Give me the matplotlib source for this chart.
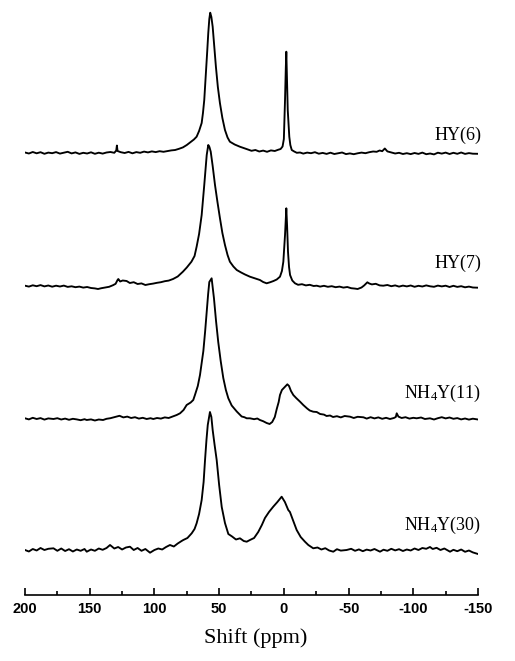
import matplotlib
matplotlib.use("Agg")
import matplotlib.pyplot as plt
from matplotlib.ticker import FixedLocator

plt.rcParams['mathtext.default'] = 'regular'

# ---------------- data ----------------
tick_values = [200, 150, 100, 50, 0, -50, -100, -150]
tick_labels = ["200", "150", "100", "50", "0", "-50", "-100", "-150"]
minor_values = [175, 125, 75, 25, -25, -75, -125]
xlabel = "Shift (ppm)"
sample_labels = ["HY(6)", "HY(7)", "NH$_4$Y(11)", "NH$_4$Y(30)"]

hy6_ppm = [200, 197, 194, 191, 188, 185, 182, 179, 176, 173, 170, 167, 164, 161, 158, 155,
           152, 149, 146, 143, 140, 137, 134, 131, 129.5, 129, 128.5, 126, 123, 120, 117, 114,
           111, 108, 105, 102, 99, 96, 93, 90, 87, 84, 81, 78, 75, 72, 69.5, 67.4, 65.5, 63.5,
           62.5, 61.5, 60.2, 59.2, 58.4, 57.6, 56.9, 56, 55, 53.8, 52.5, 51, 49.4, 47.5, 45.5,
           43.5, 41.7, 38, 34, 31, 28, 25, 22, 19, 16, 13, 10, 7, 4.5, 2.5, 1, 0, -0.9, -1.5,
           -1.9, -2.4, -3, -4.2, -5, -6.1, -8, -10, -12.5, -15, -18, -21, -24, -27, -30, -33,
           -36, -39, -42, -45, -48, -51, -54, -57, -60, -63, -66, -69, -71.7, -74, -76, -78,
           -80, -83, -86, -89, -92, -95, -98, -101, -104, -107, -110, -113, -116, -119, -122,
           -125, -128, -131, -134, -137, -140, -143, -146, -150]
hy6_int = [0.5, -0.5, 1.0, -0.3, 0.8, -0.8, 0.4, -0.2, 0.9, -0.6, 0.3, 1.2, -0.4, 0.6, -0.9, 0.2,
           -0.5, 0.7, -0.8, 0.3, -0.6, 0.5, 1.0, 0.2, 2.5, 7.5, 2.0, 0.8, 0.0, 1.1, -0.3, 0.9,
           0.2, 1.4, 0.6, 1.6, 0.9, 1.8, 1.2, 1.9, 2.6, 3.0, 4.2, 5.6, 8.0, 11.0, 13.5, 16.3, 22, 30,
           40, 53, 80, 102, 120, 134, 140.3, 136, 126.3, 107, 86.3, 66, 50, 35, 23,
           15.5, 11.3, 8.5, 6.3, 5.0, 3.6, 2.2, 3.0, 1.5, 2.4, 1.2, 2.6, 2.0, 3.2, 4.0, 6.5, 14, 53, 85,
           101.3, 75, 43, 16.3, 8, 3.0, 1.5, 0.2, 0.5, -0.6, 0.4, -0.2, 0.8, -0.7, 0.1, -0.9,
           0.3, -1.0, -0.2, 0.5, -1.1, -0.4, -1.2, -0.3, 0.4, -0.2, 0.8, 1.5, 1.2, 2.5, 1.8, 4.5,
           1.6, 0.6, -0.5, 0.2, -1.0, -0.2, -1.1, 0.0, -0.9, 0.4, -1.2, -0.5, -1.4, 0.3, -0.6,
           0.4, -1.0, 0.2, -0.8, 0.5, -0.9, -0.1, -0.7, -0.8]

hy7_ppm = [200, 197, 194, 191, 188, 185, 182, 179, 176, 173, 170, 167, 164, 161, 158, 155, 152,
           149, 146, 143.6, 141, 138, 135, 132, 130, 128.5, 127.9, 126.5, 124.5, 121.5, 119, 116,
           113, 110, 107, 104, 101, 98, 95, 92, 89, 85.6, 82, 78, 75, 71.4, 69, 67.4, 65.5, 63.5,
           61.5, 59.6, 58.4, 57.5, 56.5, 55, 53.2, 51.3, 49.4, 47.5, 45.5, 43.5, 41.7, 39, 36.4,
           33, 30, 26.2, 22, 18.5, 16, 13.3, 10.5, 8, 5.5, 3, 1.5, 0.4, -0.9, -1.9, -2.5, -3.2,
           -4.0, -4.8, -6.5, -8.6, -11, -14, -17, -20, -23, -25.4, -28, -31, -34, -37, -40, -43,
           -46, -49, -52, -55, -57, -60, -62, -64.5, -66, -68, -71, -74, -76.8, -80, -83, -86,
           -89, -92, -95, -98, -101, -104, -107, -110, -113, -116, -119, -122, -125, -128, -131,
           -134, -137, -140, -143, -146, -150]
hy7_int = [0.3, -0.6, 0.7, -0.2, 0.9, -0.4, 0.5, -0.7, 0.3, -0.5, 0.4, -0.9, -0.3, -1.2, -0.6, -1.6, -1.0,
           -2.0, -2.4, -3.0, -2.2, -1.5, -0.8, 0.8, 2.2, 6.0, 7.0, 4.5, 5.5, 5.0, 3.0, 3.8,
           2.0, 2.6, 1.0, 1.8, 2.4, 3.2, 3.8, 4.8, 5.4, 7.0, 9.5, 14.3, 18.5, 24.3, 30, 39.3, 52, 71,
           101, 131, 141, 139, 134.3, 120, 101, 84, 68, 53, 41, 31, 24.3, 19.5, 16,
           13.5, 11.5, 9.3, 7.5, 6.0, 4.0, 2.7, 3.8, 5.0, 6.5, 9.3, 15, 24.3, 51, 77.7, 60, 34.3,
           19, 11, 5.5, 2.7, 1.2, 1.8, 0.6, 1.2, 0.0, 0.3, -0.6, 0.2, -0.8, -0.2, -1.2, -0.6,
           -1.6, -1.0, -2.2, -2.6, -3.0, -1.5, 0.5, 3.7, 2.5, 1.6, 2.2, 0.6, 0.3, 1.0, -0.2, 0.6,
           -0.6, 0.4, -0.4, 0.5, -0.8, 0.2, -0.5, 0.6, -0.3, -0.8, 0.4, -0.4, 0.3, -1.0, 0.2,
           -0.9, -0.2, -1.3, -0.6, -1.5, -1.7]

nh11_ppm = [200, 197, 194, 191, 188, 185, 182, 178, 175, 172, 169, 166, 163, 160, 157, 154, 152.3,
            149, 146, 143, 139.7, 137, 134, 131, 129.2, 127, 124, 121, 118, 115, 112, 109, 106,
            103, 100.9, 98, 95, 92, 89, 86, 82.8, 80.2, 77.5, 75.1, 72, 70, 68.7, 66.5, 64.8,
            62.2, 60.8, 59.6, 58.5, 57.6, 55.8, 54, 52.4, 50.7, 48.8, 46.8, 44.8, 42.9, 40.3, 38,
            36.4, 34.5, 32.6, 30.5, 28.7, 26.2, 23, 20.5, 18.5, 16, 13.3, 11, 9, 7, 5.5, 4, 3,
            1.5, 0, -1.5, -2.7, -4, -5.5, -7.3, -9.5, -12.5, -15, -18, -20, -22.7, -25.4, -28,
            -31, -33, -35.7, -38, -41, -44, -47, -51.2, -54, -57, -61.5, -64, -67, -70, -73, -76,
            -79, -82, -85, -86.5, -87.2, -88.5, -91, -94, -97, -100, -102.6, -106, -109, -112.9,
            -116, -119, -122, -125, -128, -131, -134, -137, -140, -143, -146, -150]
nh11_int = [0.7, -0.4, 1.2, 0.0, 0.9, -0.6, 0.6, 0.0, 0.8, -0.5, 0.4, -0.8, 0.2, -0.4, -1.2, -0.2, -1.0,
            -0.4, -1.5, -0.5, -1.0, 0.2, 0.8, 1.8, 2.3, 3.2, 1.6, 2.4, 1.0, 1.8, 0.4, 1.2, 0.0,
            0.8, 0.0, 1.0, 0.4, 1.6, 1.0, 2.5, 4.0, 5.7, 9.0, 14, 16.5, 19, 24, 33, 44,
            68, 88, 107, 125, 137, 140.7, 120.7, 98, 77, 58, 41, 29, 20.7, 13.5, 10,
            7.5, 5.0, 2.5, 1.8, 0.7, 0.7, -0.2, 0.5, -1.0, -2.2, -4.0, -5.0, -3.0, 2.0, 10.0, 17, 24,
            29, 31, 33, 34.7, 33, 28, 24, 21, 17.3, 14, 10.5, 8.5, 7.3, 7.0, 5.0,
            4.4, 3.0, 3.5, 2.0, 2.8, 1.6, 3.0, 2.3, 1.0, 2.2, 1.7, 0.4, 1.8, 0.6, 1.6, 0.2,
            1.2, 0.0, 1.0, 2.0, 5.7, 2.4, 1.0, 1.8, 0.4, 1.2, 0.7, 1.5, 0.0, 0.7,
            -0.5, 0.8, 1.8, 0.6, 1.5, 0.2, 0.9, -0.4, 0.5, -0.6, 0.3, -0.5]

nh30_ppm = [200, 197, 194, 191, 188, 185, 182, 178, 175, 172, 169, 166, 163, 160, 157, 154, 152.3,
            149, 146, 143, 140, 137, 134.3, 131, 128, 125, 122, 118.9, 116, 113, 110, 107, 103.4,
            100, 97, 94, 91, 88, 85, 82, 79, 77.7, 74.5, 71.2, 69, 67.4, 65.5, 63.5, 62, 60.9,
            59.8, 58.8, 57.1, 56, 55, 53.5, 51.9, 50, 48, 45.5, 42.9, 40, 37, 33.9, 31, 28.7,
            26.2, 23, 19.8, 17, 14.6, 11.5, 8.2, 5, 1.7, -0.8, -3.4, -4.7, -7, -9.9, -13, -16.3,
            -18.9, -22.7, -26, -29, -32, -35, -38.2, -41, -44, -48.5, -52, -55, -58, -61, -64,
            -67, -70, -74.3, -77, -80, -83, -86, -89, -92, -95, -98, -101, -104, -107, -110,
            -112.9, -115, -118, -121, -124, -128.4, -131, -134, -137, -140, -143, -146, -150]
nh30_int = [0.0, -1.5, 1.0, -0.5, 2.0, 0.0, 1.2, 1.7, -0.8, 1.5, -1.0, 0.8, -1.5, 0.5, -0.8, 1.0, -1.7,
            0.5, -0.8, 1.5, 0.2, 2.0, 5.0, 1.5, 3.0, 0.5, 2.5, 3.3, 0.0, 2.0, -0.8, 1.0, -2.7,
            0.0, 1.5, 0.5, 3.0, 5.0, 3.5, 6.5, 9.0, 10, 12, 16.7, 21, 26.7, 36, 50, 68, 90,
            110, 125, 138, 133, 120, 105, 90, 65, 43, 27, 16, 13.5, 10.5, 11.7, 9.0, 8.3,
            10, 12, 18, 25, 32, 38, 43.3, 48, 53.3, 48, 40, 38, 30, 20, 13, 8.3,
            5.0, 1.7, 2.5, 0.5, 1.8, -0.5, -1.7, 0.8, -0.6, 0.0, 1.2, -0.8, 0.6, -1.2, 0.4,
            -0.5, 1.0, -1.7, 0.3, -0.8, 1.2, -0.4, 0.8, -1.0, 0.5, -0.5, 1.5, 0.0, 2.0, 1.2,
            3.0, 1.0, 2.2, 0.0, 1.5, -1.7, 0.2, -1.2, 0.5, -1.8, -0.5, -2.4, -4.0]

traces = [(hy6_ppm, hy6_int), (hy7_ppm, hy7_int), (nh11_ppm, nh11_int), (nh30_ppm, nh30_int)]

# ---------------- layout / style ----------------
W, H = 515, 661
fig = plt.figure(figsize=(W / 100, H / 100), dpi=100)
ax = fig.add_axes([25 / W, 66 / H, 453 / W, 595 / H])
ax.set_xlim(200, -150)
ax.set_ylim(0, 595)

offsets = [442, 309, 176, 45]
label_base = [455, 327, 197, 65]

for (x, y), off in zip(traces, offsets):
    ax.plot(x, [v + off for v in y], color='black', lw=1.35, solid_joinstyle='round')

for lab, yb in zip(sample_labels, label_base):
    ax.text(-152.5, yb, lab, ha='right', va='baseline', fontsize=13,
            family='Liberation Serif', color='black')

for s in ['top', 'left', 'right']:
    ax.spines[s].set_visible(False)
ax.spines['bottom'].set_linewidth(1.2)
ax.set_yticks([])
ax.xaxis.set_major_locator(FixedLocator(tick_values))
ax.xaxis.set_minor_locator(FixedLocator(minor_values))
ax.set_xticklabels(tick_labels, fontsize=10.5, fontweight='bold', family='Liberation Sans')
ax.tick_params(axis='x', which='major', direction='in', length=5, width=1.2, pad=5)
ax.tick_params(axis='x', which='minor', direction='in', length=3, width=1.2)

fig.text(256 / W, 1 - 638 / H, xlabel, ha='center', va='center', fontsize=16,
         family='Liberation Serif')

fig.savefig('out.png', dpi=100)
